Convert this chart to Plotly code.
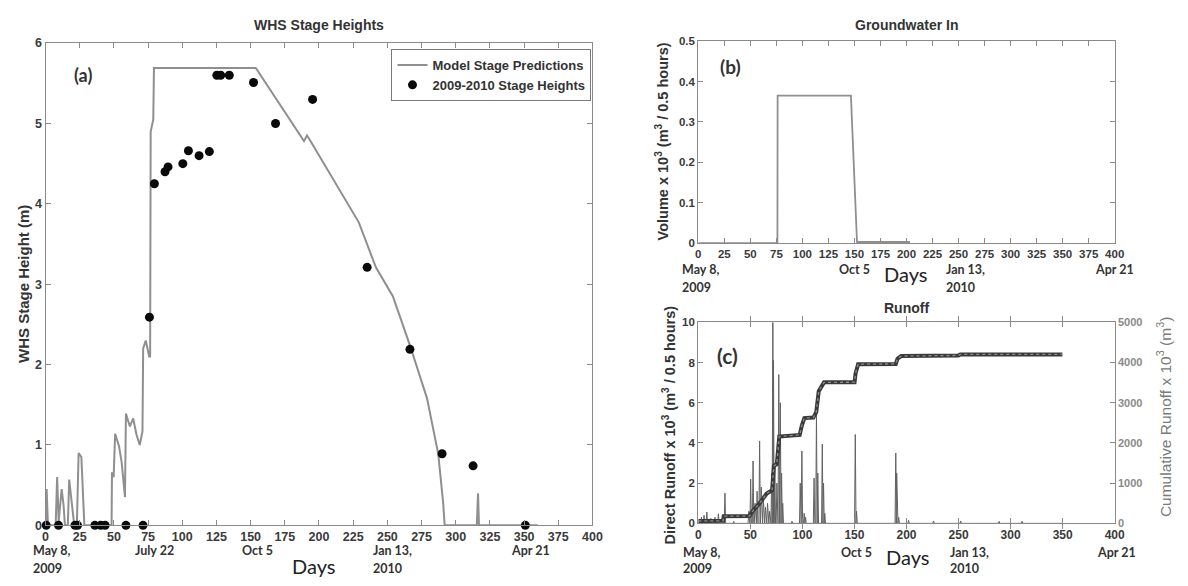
import plotly.graph_objects as go

W, H = 1188, 586

# ---------------- (a) WHS stage heights (days since May 8, 2009) ----------------
model_day = [0, 0.8, 1.8, 7.4, 8.5, 9.6, 11.8, 13.2, 14.2, 16.3, 17.3, 19.5, 21.0, 22.9, 24.2,
             26.2, 28.4, 48.3, 48.6, 49.8, 50.9, 53.8, 55.7, 58.1, 58.8, 61.7, 64.1, 66.5, 68.9,
             70.9, 71.4, 73.3, 75.8, 76.5, 76.9, 78.8, 79.3, 153.8, 159.9, 189.0, 191.2, 193.1,
             229.1, 241.6, 254.0, 266.5, 279.0, 287.2, 290.8, 291.9, 315.4, 316.3, 317.0, 360]
model_stage = [0, 0.45, 0.0, 0.0, 0.6, 0.05, 0.45, 0.25, 0.0, 0.0, 0.57, 0.2, 0.0, 0.0, 0.9,
               0.85, 0.0, 0.0, 0.66, 0.6, 1.14, 0.98, 0.78, 0.35, 1.39, 1.23, 1.33, 1.13, 1.0,
               1.17, 2.2, 2.3, 2.1, 2.1, 4.9, 5.05, 5.69, 5.69, 5.53, 4.78, 4.85, 4.80,
               3.77, 3.21, 2.85, 2.24, 1.58, 0.89, 0.28, 0.0, 0.0, 0.4, 0.0, 0.0]

obs_day = [0.5, 9.5, 21.5, 23.4, 36.1, 40.3, 43.6, 58.8, 71.3, 76.0, 79.6, 87.4, 89.6, 100.4,
           104.5, 112.3, 119.8, 125.3, 128.1, 134.4, 152.1, 168.2, 195.3, 235.2, 266.5, 290.0,
           312.7, 350.9]
obs_stage = [0, 0, 0, 0, 0, 0, 0, 0, 0, 2.59, 4.25, 4.40, 4.46, 4.50,
             4.66, 4.60, 4.65, 5.60, 5.60, 5.60, 5.51, 5.00, 5.30, 3.21, 2.19, 0.89,
             0.74, 0]

# ---------------- (b) groundwater inflow (x10^3 m^3 per 0.5 h) ----------------
gw_day = [0, 76.0, 76.2, 146.6, 152.5, 153.0, 203.4]
gw_volume = [0, 0, 0.365, 0.365, 0, 0.003, 0.003]

# ---------------- (c) runoff ----------------
peak_day = [3, 5.5, 8.2, 12, 16, 19.3, 25.6, 34, 48.5, 50.3, 52.6, 54.5, 56.5, 58.9, 60.5,
            62.5, 64.5, 66.5, 68.5, 70.5, 71.6, 72.2, 73.5, 75.5, 77.3, 78.8, 80.0, 81.1, 90,
            97.9, 99.5, 101.7, 103, 111.2, 113.5, 114.8, 119.1, 120.3, 121.5, 150.8, 152,
            189.7, 190.6, 192.5, 202, 226, 252, 289, 311]
peak_runoff = [0.3, 0.4, 0.56, 0.25, 0.3, 0.48, 1.5, 0.1, 0.6, 2.2, 3.1, 1.0, 1.6, 4.1, 1.8,
               1.2, 0.8, 1.0, 0.6, 2.5, 10.0, 8.1, 3.0, 2.0, 7.4, 6.0, 2.5, 1.0, 0.1,
               2.0, 3.6, 0.5, 0.3, 2.25, 5.5, 2.5, 3.94, 2.0, 0.5, 4.42, 0.6,
               3.5, 2.5, 0.3, 0.15, 0.12, 0.12, 0.1, 0.1]

cum_day = [0, 23.8, 24.4, 49.2, 52.0, 58.9, 65.7, 70.9, 72.6, 75.4, 77.8, 97.4, 99.5, 101.9,
           110.5, 113.3, 115.7, 118.1, 120.8, 150.1, 151.1, 153.5, 189.7, 191.4, 194.8, 249.9,
           251.6, 349.7]
cum_runoff = [60, 65, 178, 180, 300, 500, 743, 824, 1430, 1470, 2160, 2200, 2440, 2617,
              2630, 2763, 3288, 3409, 3506, 3510, 3732, 3958, 3965, 4095, 4160, 4176,
              4200, 4200]

# date labels under the day axes
dates_a = [(0, "May 8,", "2009"), (75, "July 22", ""), (150, "Oct 5", ""),
           (250, "Jan 13,", "2010"), (348, "Apr 21", "")]
dates_bc = [(0, "May 8,", "2009"), (150, "Oct 5", ""), (250, "Jan 13,", "2010"),
            (400, "Apr 21", "")]

# ---------------------------------------------------------------------------
TXT = "#333333"
AX = "#8a8a8a"
SANS = "Liberation Sans"
HUM = "Lato"


def dom_x(left, right):
    return [left / W, right / W]


def dom_y(top, bottom):
    return [1 - bottom / H, 1 - top / H]


def px(x):
    return x / W


def py(y):
    return 1 - y / H


# spikes of direct runoff as thin triangles on the zero line
HW = 0.7
run_x, run_y = [0], [0]
for d, p in zip(peak_day, peak_runoff):
    run_x += [d - HW, d, d + HW]
    run_y += [0, p, 0]
run_x.append(350)
run_y.append(0)

fig = go.Figure()

fig.add_trace(go.Scatter(x=model_day, y=model_stage, mode="lines", name="Model Stage Predictions",
                         line=dict(color="#8f8f8f", width=2), xaxis="x", yaxis="y"))
fig.add_trace(go.Scatter(x=obs_day, y=obs_stage, mode="markers", name="2009-2010 Stage Heights",
                         marker=dict(color="#0a0a0a", size=9), cliponaxis=False,
                         xaxis="x", yaxis="y"))

fig.add_trace(go.Scatter(x=gw_day, y=gw_volume, mode="lines", showlegend=False,
                         line=dict(color="#8f8f8f", width=1.8), xaxis="x2", yaxis="y2"))

fig.add_trace(go.Scatter(x=run_x, y=run_y, mode="lines", showlegend=False,
                         line=dict(color="#626262", width=1), xaxis="x3", yaxis="y3"))
fig.add_trace(go.Scatter(x=cum_day, y=cum_runoff, mode="lines", showlegend=False,
                         line=dict(color="#3a3a3a", width=4), xaxis="x3", yaxis="y4"))
fig.add_trace(go.Scatter(x=cum_day, y=cum_runoff, mode="lines", showlegend=False,
                         line=dict(color="#8c8c8c", width=1.3, dash="dot"),
                         xaxis="x3", yaxis="y4"))

tickfont = dict(family=SANS, size=12, color="#3a3a3a", weight="bold")
base = dict(showline=True, linecolor=AX, linewidth=1.2, ticks="inside", ticklen=5,
            tickcolor=AX, mirror="allticks", showgrid=False, zeroline=False,
            tickfont=tickfont)

fig.update_layout(
    width=W, height=H, margin=dict(l=0, r=0, t=0, b=0),
    paper_bgcolor="white", plot_bgcolor="white",
    xaxis=dict(base, domain=dom_x(43, 596), range=[0, 400], tickvals=list(range(0, 401, 25)),
               anchor="y", tickfont=dict(tickfont, size=12.5)),
    yaxis=dict(base, domain=dom_y(37, 531), range=[0, 6], dtick=1, anchor="x",
               tickfont=dict(tickfont, size=12.5)),
    xaxis2=dict(base, domain=dom_x(703, 1124), range=[0, 400],
                tickvals=list(range(0, 401, 25)), anchor="y2",
                tickfont=dict(tickfont, size=11.5)),
    yaxis2=dict(base, domain=dom_y(35, 242), range=[0, 0.5], dtick=0.1, anchor="x2",
                tickfont=dict(tickfont, size=11.5)),
    xaxis3=dict(base, domain=dom_x(703, 1124), range=[0, 400],
                tickvals=list(range(0, 401, 50)), anchor="y3"),
    yaxis3=dict(base, domain=dom_y(323, 529), range=[0, 10], dtick=2, anchor="x3",
                mirror=False, tickfont=dict(tickfont, size=11.5)),
    yaxis4=dict(base, domain=dom_y(323, 529), range=[0, 5000], dtick=1000, anchor="x3",
                overlaying="y3", side="right", mirror=False,
                tickfont=dict(tickfont, size=11, color="#8a8a8a")),
    legend=dict(x=px(595), y=py(43), xanchor="right", yanchor="top",
                bgcolor="white", bordercolor="#7a7a7a", borderwidth=1,
                font=dict(family=SANS, size=13, color=TXT, weight="bold"),
                itemwidth=30, tracegroupgap=0),
    showlegend=True,
)

ann = []


def text(x, y, s, size=12, family=SANS, weight="bold", color=TXT, xref="paper",
         xanchor="center", xshift=0, angle=0):
    ann.append(dict(x=x, y=y, xref=xref, yref="paper", text=s, showarrow=False,
                    xanchor=xanchor, yanchor="middle", xshift=xshift, textangle=angle,
                    font=dict(family=family, size=size, color=color, weight=weight)))


# titles
text(px(319.5), py(18), "WHS Stage Heights", size=14)
text(px(913.5), py(18), "Groundwater In", size=14)
text(px(913.5), py(308), "Runoff", size=14)

# panel letters
text(px(81), py(70), "(a)", size=18, family=HUM)
text(px(736), py(61), "(b)", size=19, family=HUM)
text(px(733), py(357), "(c)", size=21, family=HUM)

# axis titles
text(px(20), py(284), "WHS Stage Height (m)", size=15, angle=-90)
text(px(666), py(138), "Volume x 10<sup>3</sup> (m<sup>3</sup> / 0.5 hours)", size=14.5,
     angle=-90)
text(px(673), py(428), "Direct Runoff x 10<sup>3</sup> (m<sup>3</sup> / 0.5 hours)",
     size=14.5, angle=-90)
text(px(1174), py(420), "Cumulative Runoff x 10<sup>3</sup> (m<sup>3</sup>)", angle=-90,
     weight="normal", color="#7a7a7a", size=15.5)

# "Days" labels
text(px(314), py(573), "Days", size=20, family=HUM, weight="normal", color="#222")
text(px(912), py(274), "Days", size=20, family=HUM, weight="normal", color="#222")
text(px(915), py(563), "Days", size=20, family=HUM, weight="normal", color="#222")


def date_row(xref, dates, y1, y2, shifts):
    for (d, l1, l2), sh in zip(dates, shifts):
        anchor = "left" if l2 or d == 0 else "center"
        text(d, py(y1), l1, size=12.5, family=HUM, xref=xref, xanchor=anchor, xshift=sh)
        if l2:
            text(d, py(y2), l2, size=12.5, family=HUM, xref=xref, xanchor=anchor, xshift=sh)


date_row("x", dates_a, 557, 575, [-15, 6, 7, -16, 9])
date_row("x2", dates_bc, 269, 287, [-18, 0, -15, 0])
date_row("x3", dates_bc, 559, 575, [-17, 2, -11, 2])

fig.update_layout(annotations=ann)

fig.write_html("out.html")
